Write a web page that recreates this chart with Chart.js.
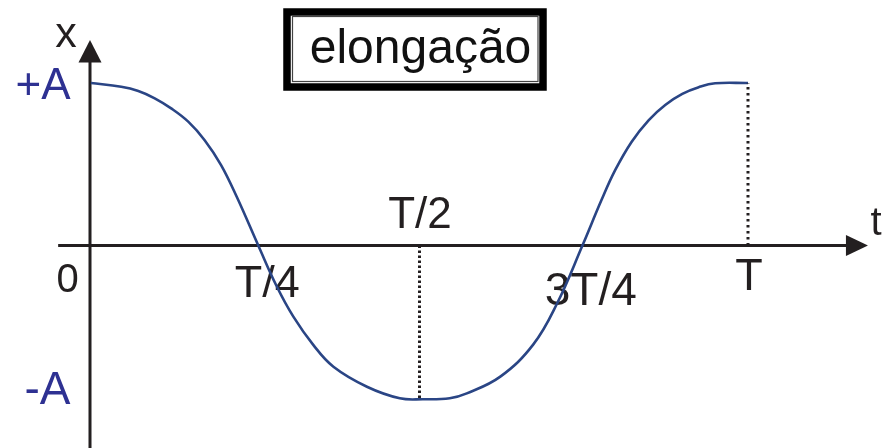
<!DOCTYPE html>
<html>
<head>
<meta charset="utf-8">
<script src="https://cdn.jsdelivr.net/npm/chart.js@4.4.1/dist/chart.umd.min.js"></script>
<style>
    html, body { margin: 0; padding: 0; background: #fff; }
    #wrap { width: 887px; height: 448px; position: relative; }
</style>
</head>
<body>
<div id="wrap"><canvas id="grafico"></canvas></div>
<script>
// === Curva x(t): t em unidades de T, x em unidades de A ===
const tempos = [0, 0.046, 0.072, 0.097, 0.122, 0.148, 0.173, 0.198, 0.222, 0.2546,
    0.283, 0.308, 0.338, 0.369, 0.420, 0.470, 0.505, 0.546, 0.572, 0.623, 0.673, 0.709,
    0.748, 0.777, 0.798, 0.823, 0.849, 0.874, 0.900, 0.925, 0.950, 1.0];
const elongacao = [1.0, 0.977, 0.951, 0.906, 0.844, 0.762, 0.648, 0.495, 0.298, 0,
    -0.254, -0.438, -0.610, -0.746, -0.869, -0.940, -0.946, -0.940, -0.910, -0.807, -0.610, -0.360,
    0, 0.280, 0.465, 0.639, 0.772, 0.865, 0.933, 0.974, 0.998, 1.0];

// === Marcas dos eixos ===
const marcasT = [0, 0.25, 0.5, 0.75, 1];
const rotulosT = ["0", "T/4", "T/2", "3T/4", "T"];
const marcasX = [1, -1];
const rotulosX = ["+A", "-A"];

// === Linhas pontilhadas (t, x) ===
const guiasT = [0.5, 1];
const guiasX = [-0.94, 1];

const titulo = "elongação";

// limites desenhados dos eixos
const eixoT = { ini: -0.050, fim: 1.1826 };
const eixoX = { fim: 1.2646 };

const FONTE = '"Liberation Sans", Arial, sans-serif';
const PRETO = "#231f20";
const AZUL = "#2e3192";

// deslocamentos (px) de cada rótulo do eixo t: dx em relação à marca, base em relação ao eixo
const posT = [
    { dx: -23.5, base: 46.5, size: 40 },
    { dx: 12, base: 51.5, size: 45 },
    { dx: 0.5, base: -17.5, size: 44 },
    { dx: 7, base: 59.5, size: 46 },
    { dx: 1, base: 44.5, size: 45 }
];
const posX = [
    { cx: 43, dy: 16, size: 44 },
    { cx: 47.5, dy: -4, size: 46 }
];

const eixos = {
    id: "eixos",
    beforeDatasetsDraw(chart) {
        const { ctx, scales: { x, y } } = chart;
        const x0 = x.getPixelForValue(0);
        const y0 = y.getPixelForValue(0);
        ctx.save();
        ctx.strokeStyle = PRETO;
        ctx.fillStyle = PRETO;
        ctx.lineWidth = 3;

        // eixo t com seta
        const tFim = x.getPixelForValue(eixoT.fim);
        ctx.beginPath();
        ctx.moveTo(x.getPixelForValue(eixoT.ini), y0);
        ctx.lineTo(tFim - 12, y0);
        ctx.stroke();
        ctx.beginPath();
        ctx.moveTo(tFim, y0);
        ctx.lineTo(tFim - 22, y0 - 10.5);
        ctx.lineTo(tFim - 22, y0 + 10.5);
        ctx.closePath();
        ctx.fill();

        // eixo x com seta
        const xTopo = y.getPixelForValue(eixoX.fim);
        ctx.beginPath();
        ctx.moveTo(x0 - 1, chart.height);
        ctx.lineTo(x0 - 1, xTopo + 12);
        ctx.stroke();
        ctx.beginPath();
        ctx.moveTo(x0 - 1, xTopo);
        ctx.lineTo(x0 - 12.5, xTopo + 22.5);
        ctx.lineTo(x0 + 10.5, xTopo + 22.5);
        ctx.closePath();
        ctx.fill();

        // rótulos
        ctx.textAlign = "center";
        ctx.textBaseline = "alphabetic";
        marcasT.forEach((t, i) => {
            const p = posT[i];
            ctx.font = p.size + "px " + FONTE;
            ctx.fillText(rotulosT[i], x.getPixelForValue(t) + p.dx, y0 + p.base);
        });
        ctx.fillStyle = AZUL;
        marcasX.forEach((v, i) => {
            const p = posX[i];
            ctx.font = p.size + "px " + FONTE;
            ctx.fillText(rotulosX[i], p.cx, y.getPixelForValue(v) + p.dy);
        });
        ctx.fillStyle = PRETO;
        ctx.font = "43px " + FONTE;
        ctx.fillText("x", x0 - 25, xTopo + 7);
        ctx.font = "40px " + FONTE;
        ctx.fillText("t", tFim + 8, y0 - 10.5);

        // título em caixa de borda dupla
        ctx.lineWidth = 7.5;
        ctx.strokeStyle = "#000";
        ctx.strokeRect(287, 12, 256, 75);
        ctx.lineWidth = 1.2;
        ctx.strokeStyle = "#444";
        ctx.strokeRect(292.5, 16.5, 245.5, 65);
        ctx.fillStyle = "#111";
        ctx.font = "48px " + FONTE;
        ctx.fillText(titulo, 420.5, 63);
        ctx.restore();
    }
};

const curva = tempos.map((t, i) => ({ x: t, y: elongacao[i] }));
const guias = guiasT.map((t, i) => ({
    data: [{ x: t, y: 0 }, { x: t, y: guiasX[i] }],
    borderColor: PRETO,
    borderWidth: 3,
    borderDash: i === 0 ? [2.5, 2.5] : [2.5, 3.5],
    pointRadius: 0
}));

new Chart(document.getElementById("grafico"), {
    type: "line",
    data: {
        datasets: [...guias, {
            data: curva,
            borderColor: "#2a4585",
            borderWidth: 2.6,
            pointRadius: 0,
            tension: 0.4
        }]
    },
    options: {
        responsive: true,
        maintainAspectRatio: false,
        animation: false,
        layout: { padding: 0 },
        plugins: { legend: { display: false }, tooltip: { enabled: false } },
        scales: {
            x: { type: "linear", display: false, min: -0.13851, max: 1.21157 },
            y: { type: "linear", display: false, min: -1.24615, max: 1.51077 }
        }
    },
    plugins: [eixos]
});
</script>
</body>
</html>
